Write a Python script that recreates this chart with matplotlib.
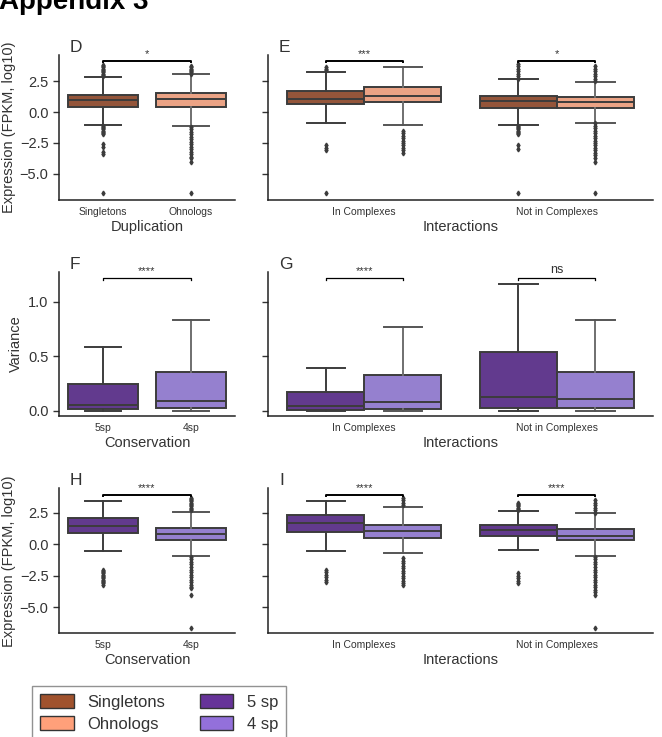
import matplotlib
matplotlib.use("Agg")
import matplotlib.pyplot as plt
from matplotlib.patches import Patch

plt.rcParams["font.family"] = ["Liberation Sans", "DejaVu Sans"]
plt.rcParams["text.color"] = "#333333"
plt.rcParams["axes.labelcolor"] = "#333333"
plt.rcParams["xtick.color"] = "#333333"
plt.rcParams["ytick.color"] = "#333333"

W, H = 662, 737

# ---- data ----
dup_groups = ["Singletons", "Ohnologs"]
int_groups = ["In Complexes", "Not in Complexes"]
cons_groups = ["5sp", "4sp"]

# each box: [q1, median, q3, whisker low, whisker high]
d_stats = [[0.40, 0.97, 1.37, -1.05, 2.85],
           [0.40, 1.02, 1.53, -1.13, 3.06]]
d_fliers = [[2.9, 3.0, 3.1, 3.2, 3.3, 3.4, 3.5, 3.6, 3.7, 3.8,
             -1.1, -1.2, -1.3, -1.4, -1.5, -1.6, -1.7, -1.8, -2.6, -2.8, -3.2, -3.4, -6.5],
            [3.1, 3.2, 3.3, 3.4, 3.5, 3.6, 3.7,
             -1.2, -1.4, -1.6, -1.8, -2.0, -2.2, -2.4, -2.6, -2.8, -3.0, -3.2, -3.4, -3.6, -3.7,
             -4.0, -6.5]]

e_single_stats = [[0.62, 1.05, 1.69, -0.86, 3.20],
                  [0.35, 0.86, 1.29, -1.05, 2.64]]
e_single_fliers = [[3.4, 3.5, 3.6, -2.7, -2.9, -3.1, -6.5],
                   [2.7, 2.9, 3.1, 3.3, 3.5, 3.7, 3.9,
                    -1.1, -1.2, -1.3, -1.4, -1.5, -1.6, -1.7, -1.8, -2.7, -3.0, -6.5]]
e_ohno_stats = [[0.78, 1.32, 1.99, -1.07, 3.60],
                [0.35, 0.78, 1.18, -0.86, 2.45]]
e_ohno_fliers = [[-1.5, -1.7, -1.9, -2.1, -2.3, -2.5, -2.7, -2.9, -3.1, -3.3],
                 [2.5, 2.7, 2.9, 3.1, 3.3, 3.5, 3.7,
                  -0.9, -1.1, -1.3, -1.5, -1.7, -1.9, -2.1, -2.3, -2.5, -2.7, -2.9, -3.1,
                  -3.3, -3.5, -3.7, -4.0, -6.5]]

f_stats = [[0.013, 0.052, 0.244, 0.0, 0.583],
           [0.027, 0.092, 0.351, 0.0, 0.833]]

g_5sp_stats = [[0.003, 0.046, 0.168, 0.0, 0.388],
               [0.022, 0.128, 0.537, 0.0, 1.163]]
g_4sp_stats = [[0.016, 0.077, 0.324, 0.0, 0.771],
               [0.027, 0.104, 0.351, 0.0, 0.833]]

h_stats = [[0.87, 1.45, 2.11, -0.56, 3.46],
           [0.34, 0.79, 1.27, -0.93, 2.59]]
h_fliers = [[-2.0, -2.1, -2.2, -2.3, -2.4, -2.5, -2.6, -2.7, -2.8, -2.9, -3.0, -3.1, -3.2],
            [2.7, 2.8, 2.9, 3.0, 3.1, 3.2, 3.3, 3.4, 3.5, 3.6, 3.7,
             -1.0, -1.2, -1.4, -1.6, -1.8, -2.0, -2.2, -2.4, -2.6, -2.8, -3.0, -3.2, -3.4,
             -3.5, -4.0, -6.6]]

i_5sp_stats = [[1.00, 1.71, 2.33, -0.53, 3.46],
               [0.66, 1.11, 1.51, -0.45, 2.64]]
i_5sp_fliers = [[-2.0, -2.2, -2.4, -2.6, -2.8, -3.0],
                [2.7, 2.8, 2.9, 3.0, 3.1, 3.2, 3.3, -2.3, -2.5, -2.7, -2.9, -3.1]]
i_4sp_stats = [[0.52, 1.06, 1.51, -0.71, 2.94],
               [0.32, 0.68, 1.19, -0.90, 2.46]]
i_4sp_fliers = [[3.1, 3.3, 3.5, 3.7,
                 -1.1, -1.3, -1.5, -1.7, -1.9, -2.1, -2.3, -2.5, -2.7, -2.9, -3.1, -3.2],
                [2.5, 2.7, 2.9, 3.1, 3.3, 3.5,
                 -1.0, -1.2, -1.4, -1.6, -1.8, -2.0, -2.2, -2.4, -2.6, -2.8, -3.0, -3.2,
                 -3.4, -3.6, -3.8, -4.05, -6.6]]

d_sig = ["*"]
e_sig = ["***", "*"]
f_sig = ["****"]
g_sig = ["****", "ns"]
h_sig = ["****"]
i_sig = ["****", "****"]

legend_labels = ["Singletons", "Ohnologs", "5 sp", "4 sp"]
legend_colors = ["#a0522d", "#ffa07a", "#663399", "#9370db"]
# desaturated box fills
fill = {"Singletons": "#94553a", "Ohnologs": "#eba385",
        "5sp": "#623a8e", "4sp": "#9580cf"}

DARK = "#3c3c3c"
GRAY = "#6f6f6f"


def to_dict(row, fliers=()):
    q1, med, q3, lo, hi = row
    return dict(q1=q1, med=med, q3=q3, whislo=lo, whishi=hi, fliers=list(fliers))


def draw(ax, pos, rows, fliers, color, width, light=False):
    if fliers is None:
        fliers = [[] for _ in rows]
    stats = [to_dict(r, f) for r, f in zip(rows, fliers)]
    wcol = GRAY if light else DARK
    ax.bxp(stats, positions=pos, widths=width, patch_artist=True,
           showfliers=True, manage_ticks=False,
           boxprops=dict(facecolor=color, edgecolor=DARK, linewidth=1.4),
           medianprops=dict(color=DARK, linewidth=1.4),
           whiskerprops=dict(color=wcol, linewidth=1.4),
           capprops=dict(color=DARK if not light else "#555555", linewidth=1.4),
           flierprops=dict(marker="d", markersize=2.4, markerfacecolor=DARK,
                           markeredgecolor=DARK, linestyle="none"))


def axes_px(x0, y0, x1, y1):
    return [x0 / W, 1 - y1 / H, (x1 - x0) / W, (y1 - y0) / H]


def style(ax, ylim, yticks, labels=True):
    for s in ["top", "right"]:
        ax.spines[s].set_visible(False)
    for s in ["left", "bottom"]:
        ax.spines[s].set_color("#222222")
        ax.spines[s].set_linewidth(1.1)
    ax.set_xlim(-0.5, 1.5)
    ax.set_ylim(*ylim)
    ax.set_yticks(yticks)
    if not labels:
        ax.set_yticklabels([])
    ax.tick_params(axis="y", labelsize=10.5, length=4, width=1, color="#333333")
    ax.tick_params(axis="x", labelsize=7.5, length=0, pad=5)


def ylabel(ax, text, right_px):
    ax.set_ylabel(text, fontsize=10.5)
    ax.yaxis.set_label_coords((right_px - 59) / 176, 0.5)


def letter(ax, s):
    ax.annotate(s, xy=(0, 1), xycoords="axes fraction", xytext=(11, 0),
                textcoords="offset pixels", fontsize=12.5, va="bottom", ha="left",
                annotation_clip=False)


def bracket(ax, x0, x1, y, h, text, lw, fs):
    ax.plot([x0, x0, x1, x1], [y - h, y, y, y - h], color="black", lw=lw, clip_on=False)
    ax.annotate(text, xy=((x0 + x1) / 2, y), xytext=(0, 1.5), textcoords="offset points",
                ha="center", va="bottom", fontsize=fs, annotation_clip=False)


fig = plt.figure(figsize=(W / 100, H / 100), dpi=100)

fig.text(-0.002, 1 - 9 / H, "Appendix 3", fontsize=20, fontweight="bold",
         va="baseline", ha="left", color="black")

expr_ticks = [-5.0, -2.5, 0.0, 2.5]
var_ticks = [0.0, 0.5, 1.0]

# D
axD = fig.add_axes(axes_px(59, 55, 235, 200))
draw(axD, [0], d_stats[:1], d_fliers[:1], fill["Singletons"], 0.8)
draw(axD, [1], d_stats[1:], d_fliers[1:], fill["Ohnologs"], 0.8, light=True)
style(axD, (-7.1, 4.6), expr_ticks)
axD.set_xticks([0, 1], dup_groups)
axD.set_xlabel("Duplication", fontsize=10.5, labelpad=2)
ylabel(axD, "Expression (FPKM, log10)", 16)
letter(axD, "D")
bracket(axD, 0, 1, 4.11, 0.1, d_sig[0], 1.4, 8)

# E
axE = fig.add_axes(axes_px(268, 55, 653, 200))
draw(axE, [-0.2, 0.8], e_single_stats, e_single_fliers, fill["Singletons"], 0.4)
draw(axE, [0.2, 1.2], e_ohno_stats, e_ohno_fliers, fill["Ohnologs"], 0.4, light=True)
style(axE, (-7.1, 4.6), expr_ticks, labels=False)
axE.set_xticks([0, 1], int_groups)
axE.set_xlabel("Interactions", fontsize=10.5, labelpad=2)
letter(axE, "E")
for k in range(2):
    bracket(axE, k - 0.2, k + 0.2, 4.11, 0.1, e_sig[k], 1.4, 8)

# F
axF = fig.add_axes(axes_px(59, 271.7, 235, 416))
draw(axF, [0], f_stats[:1], None, fill["5sp"], 0.8)
draw(axF, [1], f_stats[1:], None, fill["4sp"], 0.8, light=True)
style(axF, (-0.048, 1.274), var_ticks)
axF.set_xticks([0, 1], cons_groups)
axF.set_xlabel("Conservation", fontsize=10.5, labelpad=2)
ylabel(axF, "Variance", 23)
letter(axF, "F")
bracket(axF, 0, 1, 1.214, 0.015, f_sig[0], 0.9, 8)

# G
axG = fig.add_axes(axes_px(268, 271.7, 653, 416))
draw(axG, [-0.2, 0.8], g_5sp_stats, None, fill["5sp"], 0.4)
draw(axG, [0.2, 1.2], g_4sp_stats, None, fill["4sp"], 0.4, light=True)
style(axG, (-0.048, 1.274), var_ticks, labels=False)
axG.set_xticks([0, 1], int_groups)
axG.set_xlabel("Interactions", fontsize=10.5, labelpad=2)
letter(axG, "G")
bracket(axG, -0.2, 0.2, 1.214, 0.015, g_sig[0], 0.9, 8)
bracket(axG, 0.8, 1.2, 1.214, 0.015, g_sig[1], 0.9, 9)

# H
axH = fig.add_axes(axes_px(59, 488.3, 235, 633.3))
draw(axH, [0], h_stats[:1], h_fliers[:1], fill["5sp"], 0.8)
draw(axH, [1], h_stats[1:], h_fliers[1:], fill["4sp"], 0.8, light=True)
style(axH, (-7.06, 4.44), expr_ticks)
axH.set_xticks([0, 1], cons_groups)
axH.set_xlabel("Conservation", fontsize=10.5, labelpad=2)
ylabel(axH, "Expression (FPKM, log10)", 16)
letter(axH, "H")
bracket(axH, 0, 1, 3.91, 0.1, h_sig[0], 1.4, 8)

# I
axI = fig.add_axes(axes_px(268, 488.3, 653, 633.3))
draw(axI, [-0.2, 0.8], i_5sp_stats, i_5sp_fliers, fill["5sp"], 0.4)
draw(axI, [0.2, 1.2], i_4sp_stats, i_4sp_fliers, fill["4sp"], 0.4, light=True)
style(axI, (-7.06, 4.44), expr_ticks, labels=False)
axI.set_xticks([0, 1], int_groups)
axI.set_xlabel("Interactions", fontsize=10.5, labelpad=2)
letter(axI, "I")
for k in range(2):
    bracket(axI, k - 0.2, k + 0.2, 3.91, 0.1, i_sig[k], 1.4, 8)

handles = [Patch(facecolor=c, edgecolor="#333333", linewidth=1) for c in legend_colors]
leg = fig.legend(handles, legend_labels, ncol=2, loc="upper left",
                 bbox_to_anchor=(32 / W, 1 - 685.7 / H), borderaxespad=0,
                 fontsize=12, frameon=True, fancybox=False, edgecolor="#777777",
                 handlelength=2.0, handleheight=0.9, handletextpad=0.8,
                 columnspacing=2.1, labelspacing=0.4, borderpad=0.5)
leg.get_frame().set_linewidth(1.0)

fig.savefig("out.png", dpi=100, facecolor="white")
